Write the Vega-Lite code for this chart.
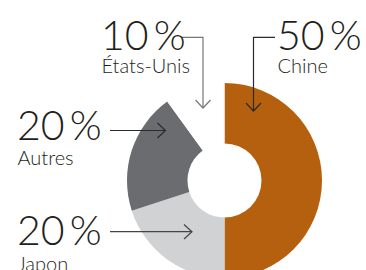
{
  "$schema": "https://vega.github.io/schema/vega-lite/v6.json",
  "width": 366,
  "height": 270,
  "autosize": {"type": "none"},
  "padding": 0,
  "background": "white",
  "config": {"view": {"stroke": null}},
  "layer": [
    {
      "data": {"values": [
        {"pays": "Chine", "part": 50, "rang": 1},
        {"pays": "Japon", "part": 20, "rang": 2},
        {"pays": "Autres", "part": 20, "rang": 3},
        {"pays": "États-Unis", "part": 10, "rang": 4}
      ]},
      "mark": {"type": "arc", "radius": 97.5, "radius2": 37},
      "encoding": {
        "theta": {"field": "part", "type": "quantitative", "stack": true},
        "order": {"field": "rang", "type": "quantitative"},
        "color": {"field": "pays", "type": "nominal", "legend": null,
          "scale": {"domain": ["Chine", "Japon", "Autres", "États-Unis"], "range": ["#b5600f", "#d1d2d4", "#6b6c6f", "#ffffff"]}},
        "x": {"datum": 224.5, "type": "quantitative", "axis": null, "scale": {"domain": [0, 366], "nice": false, "zero": false}},
        "y": {"datum": 180.5, "type": "quantitative", "axis": null, "scale": {"domain": [0, 270], "nice": false, "zero": false, "reverse": true}}
      }
    },
    {
      "data": {"values": [
        {"fleche": "chine-tige", "c": "fonce", "i": 0, "px": 275, "py": 37.3},
        {"fleche": "chine-tige", "c": "fonce", "i": 1, "px": 253.5, "py": 37.3},
        {"fleche": "chine-tige", "c": "fonce", "i": 2, "px": 253.5, "py": 111},
        {"fleche": "chine-pointe", "c": "fonce", "i": 0, "px": 246, "py": 103},
        {"fleche": "chine-pointe", "c": "fonce", "i": 1, "px": 253.5, "py": 111},
        {"fleche": "chine-pointe", "c": "fonce", "i": 2, "px": 261, "py": 103},
        {"fleche": "usa-tige", "c": "gris", "i": 0, "px": 182, "py": 37.3},
        {"fleche": "usa-tige", "c": "gris", "i": 1, "px": 203, "py": 37.3},
        {"fleche": "usa-tige", "c": "gris", "i": 2, "px": 203, "py": 108},
        {"fleche": "usa-pointe", "c": "gris", "i": 0, "px": 195.5, "py": 100},
        {"fleche": "usa-pointe", "c": "gris", "i": 1, "px": 203, "py": 108},
        {"fleche": "usa-pointe", "c": "gris", "i": 2, "px": 210.5, "py": 100},
        {"fleche": "autres-tige", "c": "fonce", "i": 0, "px": 110, "py": 130.5},
        {"fleche": "autres-tige", "c": "fonce", "i": 1, "px": 165.5, "py": 130.5},
        {"fleche": "autres-pointe", "c": "fonce", "i": 0, "px": 157.5, "py": 123},
        {"fleche": "autres-pointe", "c": "fonce", "i": 1, "px": 165.5, "py": 130.5},
        {"fleche": "autres-pointe", "c": "fonce", "i": 2, "px": 157.5, "py": 138},
        {"fleche": "japon-tige", "c": "moyen", "i": 0, "px": 110, "py": 231.7},
        {"fleche": "japon-tige", "c": "moyen", "i": 1, "px": 192, "py": 231.7},
        {"fleche": "japon-pointe", "c": "moyen", "i": 0, "px": 184, "py": 224.5},
        {"fleche": "japon-pointe", "c": "moyen", "i": 1, "px": 192, "py": 231.7},
        {"fleche": "japon-pointe", "c": "moyen", "i": 2, "px": 184, "py": 239}
      ]},
      "mark": {"type": "line", "strokeWidth": 1.2, "interpolate": "linear"},
      "encoding": {
        "x": {"field": "px", "type": "quantitative", "axis": null, "scale": {"domain": [0, 366], "nice": false, "zero": false}},
        "y": {"field": "py", "type": "quantitative", "axis": null, "scale": {"domain": [0, 270], "nice": false, "zero": false, "reverse": true}},
        "detail": {"field": "fleche", "type": "nominal"},
        "order": {"field": "i", "type": "quantitative"},
        "stroke": {"field": "c", "type": "nominal", "legend": null,
          "scale": {"domain": ["fonce", "gris", "moyen"], "range": ["#2b2b2b", "#777777", "#444444"]}}
      }
    },
    {
      "data": {"values": [
        {"txt": "50\u2009%", "px": 277, "py": 50},
        {"txt": "10\u2009%", "px": 101, "py": 50},
        {"txt": "20\u2009%", "px": 17, "py": 140},
        {"txt": "20\u2009%", "px": 17, "py": 245}
      ]},
      "mark": {"type": "text", "align": "left", "baseline": "alphabetic", "font": "Lato", "fontWeight": 300, "fontSize": 41, "color": "#231f20"},
      "encoding": {
        "x": {"field": "px", "type": "quantitative", "axis": null, "scale": {"domain": [0, 366], "nice": false, "zero": false}},
        "y": {"field": "py", "type": "quantitative", "axis": null, "scale": {"domain": [0, 270], "nice": false, "zero": false, "reverse": true}},
        "text": {"field": "txt", "type": "nominal"}
      }
    },
    {
      "data": {"values": [
        {"txt": "Chine", "px": 277.5, "py": 73},
        {"txt": "États-Unis", "px": 101.5, "py": 73},
        {"txt": "Autres", "px": 17.5, "py": 165},
        {"txt": "Japon", "px": 17.5, "py": 271}
      ]},
      "mark": {"type": "text", "align": "left", "baseline": "alphabetic", "font": "Lato", "fontWeight": 300, "fontSize": 20, "color": "#231f20"},
      "encoding": {
        "x": {"field": "px", "type": "quantitative", "axis": null, "scale": {"domain": [0, 366], "nice": false, "zero": false}},
        "y": {"field": "py", "type": "quantitative", "axis": null, "scale": {"domain": [0, 270], "nice": false, "zero": false, "reverse": true}},
        "text": {"field": "txt", "type": "nominal"}
      }
    }
  ]
}
